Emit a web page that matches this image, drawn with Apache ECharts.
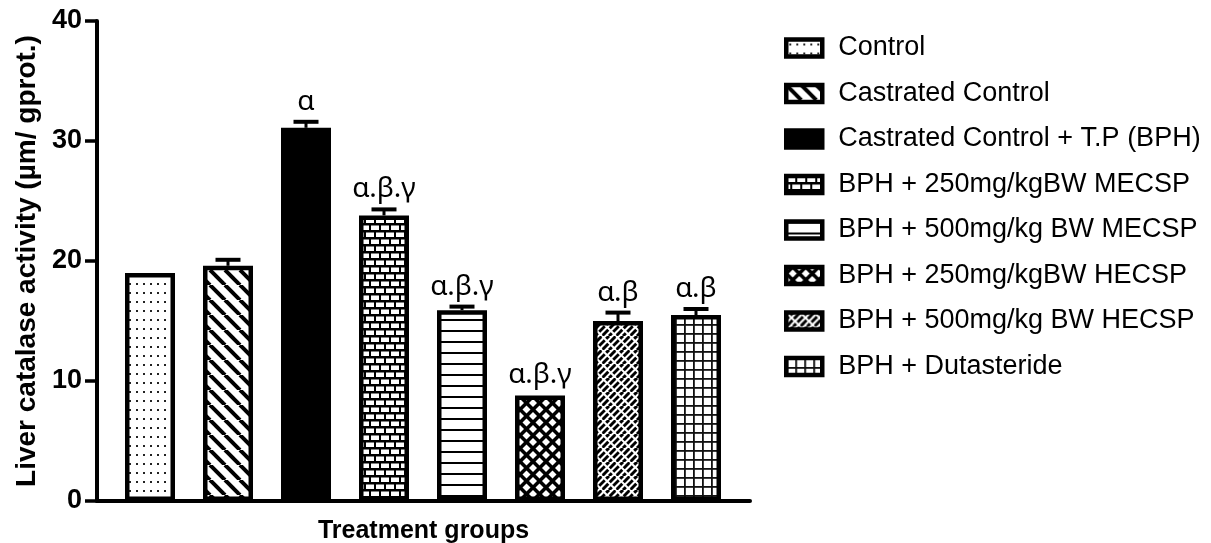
<!DOCTYPE html>
<html>
<head>
<meta charset="utf-8">
<script src="https://cdn.jsdelivr.net/npm/echarts@6/dist/echarts.min.js"></script>
<style>html,body{margin:0;padding:0;background:#fff}#main{width:1211px;height:543px}</style>
</head>
<body>
<div id="main"></div>
<script>
// treatment groups
var groups = ['Control', 'Castrated Control', 'Castrated Control + T.P (BPH)', 'BPH + 250mg/kgBW MECSP',
  'BPH + 500mg/kg BW MECSP', 'BPH + 250mg/kgBW HECSP', 'BPH + 500mg/kg BW HECSP', 'BPH + Dutasteride'];
var means = [19.0, 19.6, 31.1, 23.8, 15.9, 8.8, 15.0, 15.5];
var errors = [0, 0.5, 0.5, 0.5, 0.3, 0, 0.7, 0.5];
var marks = ['', '', 'α', 'α.β.γ', 'α.β.γ', 'α.β.γ', 'α.β', 'α.β'];
var yRange = [0, 40];
var yStep = 10;

// hatch fills
function pat(w, h, draw) {
  var c = document.createElement('canvas');
  c.width = w; c.height = h;
  var ctx = c.getContext('2d');
  draw(ctx, w, h);
  return {image: c, repeat: 'repeat'};
}
var fills = [
  pat(7, 9, function (g, w, h) { g.fillStyle = '#fff'; g.fillRect(0, 0, w, h); g.fillStyle = '#222'; g.fillRect(3, 4, 2, 2); }),
  pat(15, 15, function (g, w, h) {
    g.fillStyle = '#fff'; g.fillRect(0, 0, w, h);
    g.strokeStyle = '#000'; g.lineWidth = 4;
    [-15, 0, 15].forEach(function (o) { g.beginPath(); g.moveTo(o, 0); g.lineTo(o + 15, 15); g.stroke(); });
  }),
  '#000',
  pat(10, 14, function (g, w, h) {
    g.fillStyle = '#000'; g.fillRect(0, 0, w, h);
    g.fillStyle = '#fff';
    g.fillRect(1, 1.5, 8, 4.5); g.fillRect(6, 8.5, 8, 4.5); g.fillRect(-4, 8.5, 8, 4.5);
  }),
  pat(4, 11, function (g, w, h) { g.fillStyle = '#fff'; g.fillRect(0, 0, w, h); g.fillStyle = '#000'; g.fillRect(0, 0, w, 2); }),
  pat(13, 13, function (g, w, h) {
    g.fillStyle = '#000'; g.fillRect(0, 0, w, h);
    g.fillStyle = '#fff';
    [[6.5, 6.5], [0, 0], [13, 0], [0, 13], [13, 13]].forEach(function (p) {
      g.beginPath(); g.moveTo(p[0], p[1] - 4); g.lineTo(p[0] + 4, p[1]); g.lineTo(p[0], p[1] + 4); g.lineTo(p[0] - 4, p[1]); g.closePath(); g.fill();
    });
  }),
  pat(14, 14, function (g, w, h) {
    g.fillStyle = '#fff'; g.fillRect(0, 0, w, h);
    g.strokeStyle = '#000'; g.lineWidth = 3;
    [-14, -7, 0, 7, 14, 21].forEach(function (o) { g.beginPath(); g.moveTo(o, 14); g.lineTo(o + 14, 0); g.stroke(); });
    g.strokeStyle = '#fff'; g.lineWidth = 2;
    [-14, 0, 14].forEach(function (o) { g.beginPath(); g.moveTo(o, 0); g.lineTo(o + 14, 14); g.stroke(); });
  }),
  pat(9, 9, function (g, w, h) { g.fillStyle = '#fff'; g.fillRect(0, 0, w, h); g.fillStyle = '#111'; g.fillRect(0, 0, w, 1.8); g.fillRect(0, 0, 1.8, h); })
];

var barSeries = groups.map(function (name, i) {
  return {
    name: name,
    type: 'bar',
    xAxisIndex: 0, yAxisIndex: 0,
    barWidth: 50,
    barGap: '-100%',
    itemStyle: {color: fills[i], borderColor: '#000', borderWidth: 4.5},
    emphasis: {disabled: true},
    data: means.map(function (m, j) { return j === i ? m : '-'; })
  };
});

var errSeries = {
  type: 'custom',
  xAxisIndex: 0, yAxisIndex: 0,
  z: 5,
  data: means.map(function (m, i) { return [i, m, errors[i]]; }),
  renderItem: function (params, api) {
    var i = api.value(0), v = api.value(1), e = api.value(2);
    var base = api.coord([i, v]);
    var top = api.coord([i, v + e]);
    var kids = [];
    if (e > 0) {
      kids.push({type: 'line', shape: {x1: base[0], y1: base[1], x2: top[0], y2: top[1]}, style: {stroke: '#000', lineWidth: 3}});
      kids.push({type: 'line', shape: {x1: top[0] - 12.5, y1: top[1], x2: top[0] + 12.5, y2: top[1]}, style: {stroke: '#000', lineWidth: 4}});
    }
    var txt = marks[params.dataIndex];
    if (txt) {
      kids.push({type: 'text', x: top[0], y: top[1] - 6,
        style: {text: txt, fill: '#000', font: '28px "Noto Sans"', align: 'center', verticalAlign: 'bottom'}});
    }
    return {type: 'group', children: kids};
  }
};

var chart = echarts.init(document.getElementById('main'));
chart.setOption({
  animation: false,
  backgroundColor: '#fff',
  grid: [
    {left: 111, right: 476, top: 21, bottom: 42, outerBoundsMode: 'none', containLabel: false},
    {left: 97, right: 461, top: 21, bottom: 42, outerBoundsMode: 'none', containLabel: false}
  ],
  xAxis: [
    {type: 'category', gridIndex: 0, data: groups, show: false},
    {type: 'value', gridIndex: 1, min: 0, max: 1,
      axisLine: {show: true, lineStyle: {color: '#000', width: 4}},
      axisTick: {show: false}, axisLabel: {show: false}, splitLine: {show: false},
      name: 'Treatment groups', nameLocation: 'middle', nameGap: 18,
      nameTextStyle: {fontFamily: 'Liberation Sans', fontWeight: 'bold', fontSize: 25, color: '#000', verticalAlign: 'top'}}
  ],
  yAxis: [
    {type: 'value', gridIndex: 0, min: yRange[0], max: yRange[1], show: false},
    {type: 'value', gridIndex: 1, min: yRange[0], max: yRange[1], interval: yStep,
      axisLine: {show: true, lineStyle: {color: '#000', width: 4}},
      axisTick: {show: true, length: 12, lineStyle: {color: '#000', width: 3.5}},
      axisLabel: {margin: 15, fontFamily: 'Liberation Sans', fontWeight: 'bold', fontSize: 27, color: '#000'},
      splitLine: {show: false},
      name: 'Liver catalase activity (µm/ gprot.)', nameLocation: 'middle', nameGap: 55,
      nameTextStyle: {fontFamily: 'Liberation Sans', fontWeight: 'bold', fontSize: 28, color: '#000'}}
  ],
  legend: {
    data: groups,
    orient: 'vertical',
    left: 779, top: 28,
    icon: 'rect',
    itemWidth: 36, itemHeight: 17,
    itemGap: 15.5,
    selectedMode: false,
    itemStyle: {borderColor: '#000', borderWidth: 4.5},
    textStyle: {fontFamily: 'Liberation Sans', fontSize: 27, color: '#000', lineHeight: 30, padding: [0, 0, 0, 11]}
  },
  series: barSeries.concat([errSeries])
});
</script>
</body>
</html>
